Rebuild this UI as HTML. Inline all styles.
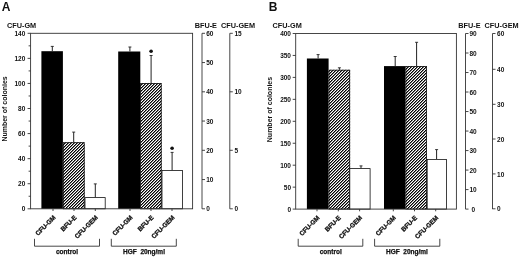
<!DOCTYPE html>
<html><head><meta charset="utf-8"><style>
html,body{margin:0;padding:0;background:#fff;width:520px;height:257px;overflow:hidden}
svg{display:block;will-change:transform}
text{font-family:"Liberation Sans", sans-serif;fill:#111}
</style></head><body>
<svg width="520" height="257" viewBox="0 0 520 257">
<defs>
<pattern id="hatch" patternUnits="userSpaceOnUse" x="0" y="0" width="3" height="3"><rect x="0" y="0" width="1" height="1" fill="#000"/><rect x="1" y="0" width="1" height="1" fill="#7a7a7a"/><rect x="2" y="0" width="1" height="1" fill="#fff"/><rect x="0" y="1" width="1" height="1" fill="#7a7a7a"/><rect x="1" y="1" width="1" height="1" fill="#fff"/><rect x="2" y="1" width="1" height="1" fill="#000"/><rect x="0" y="2" width="1" height="1" fill="#fff"/><rect x="1" y="2" width="1" height="1" fill="#000"/><rect x="2" y="2" width="1" height="1" fill="#7a7a7a"/></pattern>
</defs>
<rect width="520" height="257" fill="#fff"/>
<text x="1.80" y="11.20" font-size="12" font-weight="bold" text-anchor="start" >A</text>
<text x="7.00" y="27.60" font-size="7.3" font-weight="bold" text-anchor="start" >CFU-GM</text>
<text x="194.70" y="27.80" font-size="7.3" font-weight="bold" text-anchor="start" >BFU-E</text>
<text x="221.00" y="27.80" font-size="7.3" font-weight="bold" text-anchor="start" >CFU-GEM</text>
<text transform="translate(7.20,141.60) rotate(-90)" font-size="7" font-weight="bold" text-anchor="start">Number of colonies</text>
<rect x="41.40" y="51.20" width="21.50" height="157.60" fill="#000"/>
<line x1="52.30" y1="51.20" x2="52.30" y2="46.40" stroke="#222" stroke-width="1.0"/>
<line x1="50.80" y1="46.40" x2="53.80" y2="46.40" stroke="#222" stroke-width="0.9"/>
<rect x="62.90" y="142.30" width="21.70" height="66.50" fill="url(#hatch)"/>
<rect x="63.30" y="142.70" width="20.90" height="66.10" fill="none" stroke="#111" stroke-width="0.8"/>
<line x1="73.70" y1="142.30" x2="73.70" y2="132.10" stroke="#222" stroke-width="1.0"/>
<line x1="72.20" y1="132.10" x2="75.20" y2="132.10" stroke="#222" stroke-width="0.9"/>
<rect x="85.00" y="197.60" width="20.20" height="11.20" fill="#fff" stroke="#111" stroke-width="0.8"/>
<line x1="95.30" y1="197.20" x2="95.30" y2="183.90" stroke="#222" stroke-width="1.0"/>
<line x1="93.80" y1="183.90" x2="96.80" y2="183.90" stroke="#222" stroke-width="0.9"/>
<rect x="118.20" y="51.50" width="22.10" height="157.30" fill="#000"/>
<line x1="129.90" y1="51.50" x2="129.90" y2="47.00" stroke="#222" stroke-width="1.0"/>
<line x1="128.40" y1="47.00" x2="131.40" y2="47.00" stroke="#222" stroke-width="0.9"/>
<rect x="140.20" y="83.10" width="21.40" height="125.70" fill="url(#hatch)"/>
<rect x="140.60" y="83.50" width="20.60" height="125.30" fill="none" stroke="#111" stroke-width="0.8"/>
<line x1="151.10" y1="83.10" x2="151.10" y2="55.50" stroke="#222" stroke-width="1.0"/>
<line x1="149.60" y1="55.50" x2="152.60" y2="55.50" stroke="#222" stroke-width="0.9"/>
<circle cx="151.10" cy="51.30" r="1.8" fill="#111"/>
<rect x="162.00" y="170.50" width="20.50" height="38.30" fill="#fff" stroke="#111" stroke-width="0.8"/>
<line x1="172.10" y1="170.10" x2="172.10" y2="152.40" stroke="#222" stroke-width="1.0"/>
<line x1="170.60" y1="152.40" x2="173.60" y2="152.40" stroke="#222" stroke-width="0.9"/>
<circle cx="172.10" cy="148.20" r="1.8" fill="#111"/>
<rect x="30.60" y="33.30" width="162.00" height="175.50" fill="none" stroke="#333" stroke-width="0.9"/>
<line x1="27.60" y1="208.80" x2="30.60" y2="208.80" stroke="#333" stroke-width="0.9"/>
<text x="25.30" y="211.40" font-size="6.5" font-weight="bold" text-anchor="end" >0</text>
<line x1="28.60" y1="196.26" x2="30.60" y2="196.26" stroke="#333" stroke-width="0.9"/>
<line x1="27.60" y1="183.73" x2="30.60" y2="183.73" stroke="#333" stroke-width="0.9"/>
<text x="25.30" y="186.33" font-size="6.5" font-weight="bold" text-anchor="end" >20</text>
<line x1="28.60" y1="171.19" x2="30.60" y2="171.19" stroke="#333" stroke-width="0.9"/>
<line x1="27.60" y1="158.66" x2="30.60" y2="158.66" stroke="#333" stroke-width="0.9"/>
<text x="25.30" y="161.26" font-size="6.5" font-weight="bold" text-anchor="end" >40</text>
<line x1="28.60" y1="146.12" x2="30.60" y2="146.12" stroke="#333" stroke-width="0.9"/>
<line x1="27.60" y1="133.59" x2="30.60" y2="133.59" stroke="#333" stroke-width="0.9"/>
<text x="25.30" y="136.19" font-size="6.5" font-weight="bold" text-anchor="end" >60</text>
<line x1="28.60" y1="121.05" x2="30.60" y2="121.05" stroke="#333" stroke-width="0.9"/>
<line x1="27.60" y1="108.51" x2="30.60" y2="108.51" stroke="#333" stroke-width="0.9"/>
<text x="25.30" y="111.11" font-size="6.5" font-weight="bold" text-anchor="end" >80</text>
<line x1="28.60" y1="95.98" x2="30.60" y2="95.98" stroke="#333" stroke-width="0.9"/>
<line x1="27.60" y1="83.44" x2="30.60" y2="83.44" stroke="#333" stroke-width="0.9"/>
<text x="25.30" y="86.04" font-size="6.5" font-weight="bold" text-anchor="end" >100</text>
<line x1="28.60" y1="70.91" x2="30.60" y2="70.91" stroke="#333" stroke-width="0.9"/>
<line x1="27.60" y1="58.37" x2="30.60" y2="58.37" stroke="#333" stroke-width="0.9"/>
<text x="25.30" y="60.97" font-size="6.5" font-weight="bold" text-anchor="end" >120</text>
<line x1="28.60" y1="45.84" x2="30.60" y2="45.84" stroke="#333" stroke-width="0.9"/>
<line x1="27.60" y1="33.30" x2="30.60" y2="33.30" stroke="#333" stroke-width="0.9"/>
<text x="25.30" y="35.90" font-size="6.5" font-weight="bold" text-anchor="end" >140</text>
<line x1="53.00" y1="208.80" x2="53.00" y2="211.00" stroke="#333" stroke-width="0.9"/>
<line x1="74.00" y1="208.80" x2="74.00" y2="211.00" stroke="#333" stroke-width="0.9"/>
<line x1="95.30" y1="208.80" x2="95.30" y2="211.00" stroke="#333" stroke-width="0.9"/>
<line x1="130.00" y1="208.80" x2="130.00" y2="211.00" stroke="#333" stroke-width="0.9"/>
<line x1="151.00" y1="208.80" x2="151.00" y2="211.00" stroke="#333" stroke-width="0.9"/>
<line x1="172.00" y1="208.80" x2="172.00" y2="211.00" stroke="#333" stroke-width="0.9"/>
<line x1="202.00" y1="33.30" x2="202.00" y2="208.80" stroke="#333" stroke-width="0.9"/>
<line x1="202.00" y1="208.80" x2="205.00" y2="208.80" stroke="#333" stroke-width="0.9"/>
<text x="206.20" y="211.40" font-size="6.5" font-weight="bold" text-anchor="start" >0</text>
<line x1="202.00" y1="179.55" x2="205.00" y2="179.55" stroke="#333" stroke-width="0.9"/>
<text x="206.20" y="182.15" font-size="6.5" font-weight="bold" text-anchor="start" >10</text>
<line x1="202.00" y1="150.30" x2="205.00" y2="150.30" stroke="#333" stroke-width="0.9"/>
<text x="206.20" y="152.90" font-size="6.5" font-weight="bold" text-anchor="start" >20</text>
<line x1="202.00" y1="121.05" x2="205.00" y2="121.05" stroke="#333" stroke-width="0.9"/>
<text x="206.20" y="123.65" font-size="6.5" font-weight="bold" text-anchor="start" >30</text>
<line x1="202.00" y1="91.80" x2="205.00" y2="91.80" stroke="#333" stroke-width="0.9"/>
<text x="206.20" y="94.40" font-size="6.5" font-weight="bold" text-anchor="start" >40</text>
<line x1="202.00" y1="62.55" x2="205.00" y2="62.55" stroke="#333" stroke-width="0.9"/>
<text x="206.20" y="65.15" font-size="6.5" font-weight="bold" text-anchor="start" >50</text>
<line x1="202.00" y1="33.30" x2="205.00" y2="33.30" stroke="#333" stroke-width="0.9"/>
<text x="206.20" y="35.90" font-size="6.5" font-weight="bold" text-anchor="start" >60</text>
<line x1="229.80" y1="33.30" x2="229.80" y2="208.80" stroke="#333" stroke-width="0.9"/>
<line x1="229.80" y1="208.80" x2="232.80" y2="208.80" stroke="#333" stroke-width="0.9"/>
<text x="234.50" y="211.40" font-size="6.5" font-weight="bold" text-anchor="start" >0</text>
<line x1="229.80" y1="150.30" x2="232.80" y2="150.30" stroke="#333" stroke-width="0.9"/>
<text x="234.50" y="152.90" font-size="6.5" font-weight="bold" text-anchor="start" >5</text>
<line x1="229.80" y1="91.80" x2="232.80" y2="91.80" stroke="#333" stroke-width="0.9"/>
<text x="234.50" y="94.40" font-size="6.5" font-weight="bold" text-anchor="start" >10</text>
<line x1="229.80" y1="33.30" x2="232.80" y2="33.30" stroke="#333" stroke-width="0.9"/>
<text x="234.50" y="35.90" font-size="6.5" font-weight="bold" text-anchor="start" >15</text>
<text transform="translate(56.00,218.00) rotate(-45)" font-size="6.4" font-weight="bold" text-anchor="end" stroke="#111" stroke-width="0.3">CFU-GM</text>
<text transform="translate(77.00,218.00) rotate(-45)" font-size="6.4" font-weight="bold" text-anchor="end" stroke="#111" stroke-width="0.3">BFU-E</text>
<text transform="translate(98.30,218.00) rotate(-45)" font-size="6.4" font-weight="bold" text-anchor="end" stroke="#111" stroke-width="0.3">CFU-GEM</text>
<text transform="translate(133.00,218.00) rotate(-45)" font-size="6.4" font-weight="bold" text-anchor="end" stroke="#111" stroke-width="0.3">CFU-GM</text>
<text transform="translate(154.00,218.00) rotate(-45)" font-size="6.4" font-weight="bold" text-anchor="end" stroke="#111" stroke-width="0.3">BFU-E</text>
<text transform="translate(175.00,218.00) rotate(-45)" font-size="6.4" font-weight="bold" text-anchor="end" stroke="#111" stroke-width="0.3">CFU-GEM</text>
<polyline points="34.50,238.8 34.50,246.2 99.50,246.2 99.50,238.8" fill="none" stroke="#333" stroke-width="0.9"/>
<text x="67.00" y="254.20" font-size="6.5" font-weight="bold" text-anchor="middle" stroke="#111" stroke-width="0.25">control</text>
<polyline points="111.30,238.8 111.30,246.2 176.30,246.2 176.30,238.8" fill="none" stroke="#333" stroke-width="0.9"/>
<text x="144.00" y="254.20" font-size="6.5" font-weight="bold" text-anchor="middle" stroke="#111" stroke-width="0.25">HGF&#160; 20ng/ml</text>
<text x="268.80" y="11.20" font-size="12" font-weight="bold" text-anchor="start" >B</text>
<text x="272.60" y="27.60" font-size="7.3" font-weight="bold" text-anchor="start" >CFU-GM</text>
<text x="458.30" y="27.80" font-size="7.3" font-weight="bold" text-anchor="start" >BFU-E</text>
<text x="484.60" y="27.80" font-size="7.3" font-weight="bold" text-anchor="start" >CFU-GEM</text>
<text transform="translate(272.00,142.20) rotate(-90)" font-size="7" font-weight="bold" text-anchor="start">Number of colonies</text>
<rect x="306.90" y="58.50" width="21.70" height="150.60" fill="#000"/>
<line x1="318.10" y1="58.50" x2="318.10" y2="54.60" stroke="#222" stroke-width="1.0"/>
<line x1="316.60" y1="54.60" x2="319.60" y2="54.60" stroke="#222" stroke-width="0.9"/>
<rect x="328.60" y="69.80" width="21.50" height="139.30" fill="url(#hatch)"/>
<rect x="329.00" y="70.20" width="20.70" height="138.90" fill="none" stroke="#111" stroke-width="0.8"/>
<line x1="339.40" y1="69.80" x2="339.40" y2="67.80" stroke="#222" stroke-width="1.0"/>
<line x1="337.90" y1="67.80" x2="340.90" y2="67.80" stroke="#222" stroke-width="0.9"/>
<rect x="349.80" y="168.60" width="20.30" height="40.50" fill="#fff" stroke="#111" stroke-width="0.8"/>
<line x1="361.00" y1="168.20" x2="361.00" y2="165.90" stroke="#222" stroke-width="1.0"/>
<line x1="359.50" y1="165.90" x2="362.50" y2="165.90" stroke="#222" stroke-width="0.9"/>
<rect x="384.00" y="66.10" width="21.50" height="143.00" fill="#000"/>
<line x1="395.20" y1="66.10" x2="395.20" y2="56.50" stroke="#222" stroke-width="1.0"/>
<line x1="393.70" y1="56.50" x2="396.70" y2="56.50" stroke="#222" stroke-width="0.9"/>
<rect x="405.50" y="66.10" width="21.30" height="143.00" fill="url(#hatch)"/>
<rect x="405.90" y="66.50" width="20.50" height="142.60" fill="none" stroke="#111" stroke-width="0.8"/>
<line x1="416.60" y1="66.10" x2="416.60" y2="42.30" stroke="#222" stroke-width="1.0"/>
<line x1="415.10" y1="42.30" x2="418.10" y2="42.30" stroke="#222" stroke-width="0.9"/>
<rect x="427.20" y="159.40" width="19.30" height="49.70" fill="#fff" stroke="#111" stroke-width="0.8"/>
<line x1="436.60" y1="159.00" x2="436.60" y2="149.60" stroke="#222" stroke-width="1.0"/>
<line x1="435.10" y1="149.60" x2="438.10" y2="149.60" stroke="#222" stroke-width="0.9"/>
<rect x="295.70" y="33.50" width="160.70" height="175.60" fill="none" stroke="#333" stroke-width="0.9"/>
<line x1="292.70" y1="209.10" x2="295.70" y2="209.10" stroke="#333" stroke-width="0.9"/>
<text x="291.00" y="211.70" font-size="6.5" font-weight="bold" text-anchor="end" >0</text>
<line x1="292.70" y1="187.15" x2="295.70" y2="187.15" stroke="#333" stroke-width="0.9"/>
<text x="291.00" y="189.75" font-size="6.5" font-weight="bold" text-anchor="end" >50</text>
<line x1="292.70" y1="165.20" x2="295.70" y2="165.20" stroke="#333" stroke-width="0.9"/>
<text x="291.00" y="167.80" font-size="6.5" font-weight="bold" text-anchor="end" >100</text>
<line x1="292.70" y1="143.25" x2="295.70" y2="143.25" stroke="#333" stroke-width="0.9"/>
<text x="291.00" y="145.85" font-size="6.5" font-weight="bold" text-anchor="end" >150</text>
<line x1="292.70" y1="121.30" x2="295.70" y2="121.30" stroke="#333" stroke-width="0.9"/>
<text x="291.00" y="123.90" font-size="6.5" font-weight="bold" text-anchor="end" >200</text>
<line x1="292.70" y1="99.35" x2="295.70" y2="99.35" stroke="#333" stroke-width="0.9"/>
<text x="291.00" y="101.95" font-size="6.5" font-weight="bold" text-anchor="end" >250</text>
<line x1="292.70" y1="77.40" x2="295.70" y2="77.40" stroke="#333" stroke-width="0.9"/>
<text x="291.00" y="80.00" font-size="6.5" font-weight="bold" text-anchor="end" >300</text>
<line x1="292.70" y1="55.45" x2="295.70" y2="55.45" stroke="#333" stroke-width="0.9"/>
<text x="291.00" y="58.05" font-size="6.5" font-weight="bold" text-anchor="end" >350</text>
<line x1="292.70" y1="33.50" x2="295.70" y2="33.50" stroke="#333" stroke-width="0.9"/>
<text x="291.00" y="36.10" font-size="6.5" font-weight="bold" text-anchor="end" >400</text>
<line x1="317.00" y1="209.10" x2="317.00" y2="211.30" stroke="#333" stroke-width="0.9"/>
<line x1="338.30" y1="209.10" x2="338.30" y2="211.30" stroke="#333" stroke-width="0.9"/>
<line x1="359.60" y1="209.10" x2="359.60" y2="211.30" stroke="#333" stroke-width="0.9"/>
<line x1="393.30" y1="209.10" x2="393.30" y2="211.30" stroke="#333" stroke-width="0.9"/>
<line x1="414.50" y1="209.10" x2="414.50" y2="211.30" stroke="#333" stroke-width="0.9"/>
<line x1="435.70" y1="209.10" x2="435.70" y2="211.30" stroke="#333" stroke-width="0.9"/>
<line x1="465.50" y1="33.50" x2="465.50" y2="209.10" stroke="#333" stroke-width="0.9"/>
<line x1="465.50" y1="209.10" x2="468.50" y2="209.10" stroke="#333" stroke-width="0.9"/>
<text x="471.50" y="211.70" font-size="6.5" font-weight="bold" text-anchor="start" >0</text>
<line x1="465.50" y1="189.59" x2="468.50" y2="189.59" stroke="#333" stroke-width="0.9"/>
<text x="469.50" y="192.19" font-size="6.5" font-weight="bold" text-anchor="start" >10</text>
<line x1="465.50" y1="170.08" x2="468.50" y2="170.08" stroke="#333" stroke-width="0.9"/>
<text x="469.50" y="172.68" font-size="6.5" font-weight="bold" text-anchor="start" >20</text>
<line x1="465.50" y1="150.57" x2="468.50" y2="150.57" stroke="#333" stroke-width="0.9"/>
<text x="469.50" y="153.17" font-size="6.5" font-weight="bold" text-anchor="start" >30</text>
<line x1="465.50" y1="131.06" x2="468.50" y2="131.06" stroke="#333" stroke-width="0.9"/>
<text x="469.50" y="133.66" font-size="6.5" font-weight="bold" text-anchor="start" >40</text>
<line x1="465.50" y1="111.54" x2="468.50" y2="111.54" stroke="#333" stroke-width="0.9"/>
<text x="469.50" y="114.14" font-size="6.5" font-weight="bold" text-anchor="start" >50</text>
<line x1="465.50" y1="92.03" x2="468.50" y2="92.03" stroke="#333" stroke-width="0.9"/>
<text x="469.50" y="94.63" font-size="6.5" font-weight="bold" text-anchor="start" >60</text>
<line x1="465.50" y1="72.52" x2="468.50" y2="72.52" stroke="#333" stroke-width="0.9"/>
<text x="469.50" y="75.12" font-size="6.5" font-weight="bold" text-anchor="start" >70</text>
<line x1="465.50" y1="53.01" x2="468.50" y2="53.01" stroke="#333" stroke-width="0.9"/>
<text x="469.50" y="55.61" font-size="6.5" font-weight="bold" text-anchor="start" >80</text>
<line x1="465.50" y1="33.50" x2="468.50" y2="33.50" stroke="#333" stroke-width="0.9"/>
<text x="469.50" y="36.10" font-size="6.5" font-weight="bold" text-anchor="start" >90</text>
<line x1="492.50" y1="33.50" x2="492.50" y2="209.10" stroke="#333" stroke-width="0.9"/>
<line x1="492.50" y1="208.80" x2="495.50" y2="208.80" stroke="#333" stroke-width="0.9"/>
<text x="497.10" y="211.40" font-size="6.5" font-weight="bold" text-anchor="start" >0</text>
<line x1="492.50" y1="173.90" x2="495.50" y2="173.90" stroke="#333" stroke-width="0.9"/>
<text x="497.10" y="176.50" font-size="6.5" font-weight="bold" text-anchor="start" >10</text>
<line x1="492.50" y1="139.00" x2="495.50" y2="139.00" stroke="#333" stroke-width="0.9"/>
<text x="497.10" y="141.60" font-size="6.5" font-weight="bold" text-anchor="start" >20</text>
<line x1="492.50" y1="104.30" x2="495.50" y2="104.30" stroke="#333" stroke-width="0.9"/>
<text x="497.10" y="106.90" font-size="6.5" font-weight="bold" text-anchor="start" >30</text>
<line x1="492.50" y1="69.30" x2="495.50" y2="69.30" stroke="#333" stroke-width="0.9"/>
<text x="497.10" y="71.90" font-size="6.5" font-weight="bold" text-anchor="start" >40</text>
<line x1="492.50" y1="33.50" x2="495.50" y2="33.50" stroke="#333" stroke-width="0.9"/>
<text x="497.10" y="36.10" font-size="6.5" font-weight="bold" text-anchor="start" >60</text>
<text transform="translate(320.00,218.20) rotate(-45)" font-size="6.4" font-weight="bold" text-anchor="end" stroke="#111" stroke-width="0.3">CFU-GM</text>
<text transform="translate(341.30,218.20) rotate(-45)" font-size="6.4" font-weight="bold" text-anchor="end" stroke="#111" stroke-width="0.3">BFU-E</text>
<text transform="translate(362.60,218.20) rotate(-45)" font-size="6.4" font-weight="bold" text-anchor="end" stroke="#111" stroke-width="0.3">CFU-GEM</text>
<text transform="translate(396.30,218.20) rotate(-45)" font-size="6.4" font-weight="bold" text-anchor="end" stroke="#111" stroke-width="0.3">CFU-GM</text>
<text transform="translate(417.50,218.20) rotate(-45)" font-size="6.4" font-weight="bold" text-anchor="end" stroke="#111" stroke-width="0.3">BFU-E</text>
<text transform="translate(438.70,218.20) rotate(-45)" font-size="6.4" font-weight="bold" text-anchor="end" stroke="#111" stroke-width="0.3">CFU-GEM</text>
<polyline points="298.20,238.8 298.20,246.2 362.80,246.2 362.80,238.8" fill="none" stroke="#333" stroke-width="0.9"/>
<text x="330.70" y="254.20" font-size="6.5" font-weight="bold" text-anchor="middle" stroke="#111" stroke-width="0.25">control</text>
<polyline points="374.60,238.8 374.60,246.2 439.80,246.2 439.80,238.8" fill="none" stroke="#333" stroke-width="0.9"/>
<text x="406.90" y="254.20" font-size="6.5" font-weight="bold" text-anchor="middle" stroke="#111" stroke-width="0.25">HGF&#160; 20ng/ml</text>
</svg>
</body></html>
